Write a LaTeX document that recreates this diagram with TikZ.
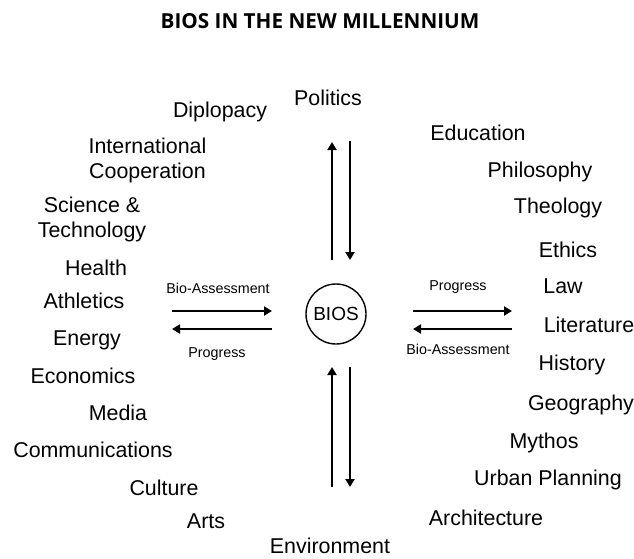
\documentclass[tikz,border=0pt]{standalone}
\usepackage{fontspec}
\setmainfont{Liberation Sans}
\newfontfamily\titlefont{Open Sans}
\usetikzlibrary{arrows.meta}
\tikzset{
  lbl/.style={anchor=base, inner sep=0pt, font=\fontsize{21.4}{25}\selectfont, align=center},
  small/.style={anchor=base, inner sep=0pt, font=\fontsize{14.3}{17}\selectfont},
  arr/.style={line width=2.6pt, -{Triangle[length=8pt,width=9pt]}},
}
\begin{document}
\begin{tikzpicture}[x=1pt,y=-1pt]
\useasboundingbox (0,0) rectangle (634,558);
\node[anchor=base, inner sep=0pt, font=\titlefont\bfseries\fontsize{20.7}{24}\selectfont] (title) at (320,28) {BIOS IN THE NEW MILLENNIUM};
% centre
\node[circle, draw, line width=1.4pt, minimum size=60pt, inner sep=0pt, font=\fontsize{19}{23}\selectfont] (bios) at (336,314) {BIOS};
% left list
\node[lbl] (dip) at (220,117) {Diplopacy};
\node[lbl] (intl) at (147.5,178) {International\\Cooperation};
\node[lbl] (sci) at (92,237) {Science \&\\Technology};
\node[lbl] (health) at (96,275) {Health};
\node[lbl] (ath) at (84,308) {Athletics};
\node[lbl] (energy) at (87,345) {Energy};
\node[lbl] (econ) at (83,383) {Economics};
\node[lbl] (media) at (118,420) {Media};
\node[lbl] (comm) at (93,457) {Communications};
\node[lbl] (culture) at (164,495) {Culture};
\node[lbl] (arts) at (206,528) {Arts};
% top / bottom
\node[lbl] (pol) at (328,105) {Politics};
\node[lbl] (env) at (330,553) {Environment};
% right list
\node[lbl] (edu) at (478,140) {Education};
\node[lbl] (phil) at (540,177) {Philosophy};
\node[lbl] (theo) at (558,213) {Theology};
\node[lbl] (eth) at (568,257) {Ethics};
\node[lbl] (law) at (563,293) {Law};
\node[lbl] (lit) at (589,332) {Literature};
\node[lbl] (hist) at (572,370) {History};
\node[lbl] (geo) at (581,410) {Geography};
\node[lbl] (myth) at (544,448) {Mythos};
\node[lbl] (urban) at (548,485) {Urban Planning};
\node[lbl] (arch) at (486,525) {Architecture};
% small labels
\node[small] (lba) at (218,293) {Bio-Assessment};
\node[small] (lpr) at (217,357) {Progress};
\node[small] (rpr) at (458,290) {Progress};
\node[small] (rba) at (458,354) {Bio-Assessment};
% arrow end points
\coordinate (la1) at (172,311); \coordinate (la2) at (272,311);
\coordinate (lb1) at (272,329); \coordinate (lb2) at (172,329);
\coordinate (ra1) at (413,311); \coordinate (ra2) at (512,311);
\coordinate (rb1) at (512,329); \coordinate (rb2) at (413,329);
\coordinate (tu1) at (332,260); \coordinate (tu2) at (332,142);
\coordinate (td1) at (350,141); \coordinate (td2) at (350,260);
\coordinate (bu1) at (332,487); \coordinate (bu2) at (332,367);
\coordinate (bd1) at (350,367); \coordinate (bd2) at (350,487);
\draw[arr] (la1) -- (la2);
\draw[arr] (lb1) -- (lb2);
\draw[arr] (ra1) -- (ra2);
\draw[arr] (rb1) -- (rb2);
\draw[arr] (tu1) -- (tu2);
\draw[arr] (td1) -- (td2);
\draw[arr] (bu1) -- (bu2);
\draw[arr] (bd1) -- (bd2);
\end{tikzpicture}
\end{document}
